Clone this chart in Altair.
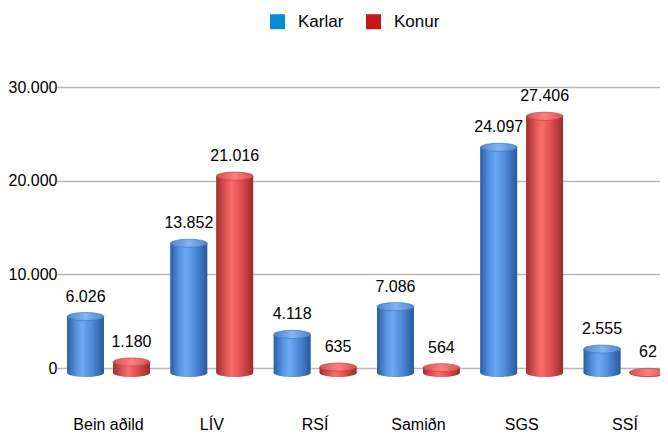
import altair as alt
import pandas as pd

categories = ["Bein aðild", "LÍV", "RSÍ", "Samiðn", "SGS", "SSÍ"]
karlar = [6026, 13852, 4118, 7086, 24097, 2555]
konur = [1180, 21016, 635, 564, 27406, 62]
series = ["Karlar", "Konur"]
y_ticks = [0, 10000, 20000, 30000]

rows = []
for c, k, w in zip(categories, karlar, konur):
    rows.append({"cat": c, "sex": "Karlar", "value": k})
    rows.append({"cat": c, "sex": "Konur", "value": w})
df = pd.DataFrame(rows)
df["label"] = df["value"].map(lambda v: f"{v:,}".replace(",", "."))
df["zero"] = 0

FONT = "Liberation Sans"
SHIFT = 5          # slight downward shift, mimicking the 3D perspective
CAP = "M-1,0A1,0.22,0,1,1,1,0A1,0.22,0,1,1,-1,0Z"
CAP_SIZE = 1360

x_enc = alt.X("cat:N", sort=categories,
              scale=alt.Scale(range=[-16.15, 603.65], paddingInner=0.2, paddingOuter=0.1),
              axis=alt.Axis(title=None, labelAngle=0, domain=False, ticks=False,
                            labelPadding=48, labelFontSize=16, labelColor="#000",
                            labelFont=FONT, grid=False))
xo_enc = alt.XOffset("sex:N", scale=alt.Scale(domain=series, paddingInner=0.2, paddingOuter=0))
y_enc = alt.Y("value:Q", scale=alt.Scale(domain=[0, 30000]),
              axis=alt.Axis(title=None, values=y_ticks, domain=False, ticks=False,
                            labelPadding=16, labelFontSize=16, labelColor="#000",
                            labelFont=FONT, gridColor="#b8b8b8", gridWidth=1.4,
                            labelExpr="replace(format(datum.value, ','), ',', '.')"))
y_zero = alt.Y("zero:Q")


def grad(stops):
    return alt.Gradient(gradient="linear", x1=0, y1=0, x2=1, y2=0,
                        stops=[alt.GradientStop(color=c, offset=o) for o, c in stops])


blue_grad = grad([(0, "#2c5fa6"), (0.25, "#5893e0"), (0.42, "#6eaaf2"),
                  (0.7, "#4b87d3"), (1, "#2a589b")])
red_grad = grad([(0, "#a32f2f"), (0.25, "#dd5555"), (0.42, "#fb6e6e"),
                 (0.7, "#d84c4c"), (1, "#9c2c2c")])
blue_top = grad([(0, "#4c86d0"), (0.5, "#80b5f3"), (1, "#4c86d0")])
red_top = grad([(0, "#d45050"), (0.5, "#ff8080"), (1, "#d45050")])

base = alt.Chart(df)

legend_bars = base.mark_bar(yOffset=SHIFT).encode(
    x=x_enc, xOffset=xo_enc, y=y_enc,
    color=alt.Color("sex:N", scale=alt.Scale(domain=series, range=["#0a8ad0", "#c8161d"]),
                    legend=alt.Legend(title=None, orient="none", legendX=196, legendY=-74,
                                      direction="horizontal", symbolType="square",
                                      symbolSize=225, symbolStrokeWidth=0,
                                      labelFontSize=17, labelFont=FONT, labelColor="#000",
                                      labelOffset=12, columnPadding=21)))

layers = [legend_bars]
for s, body, top, edge in [("Karlar", blue_grad, blue_top, "#3a70b8"),
                           ("Konur", red_grad, red_top, "#b53a3a")]:
    b = base.transform_filter(alt.datum.sex == s)
    layers.append(b.mark_point(shape=CAP, size=CAP_SIZE, filled=True, color=body,
                               opacity=1, yOffset=SHIFT).encode(
        x=x_enc, xOffset=xo_enc, y=y_zero))
    layers.append(b.mark_bar(color=body, yOffset=SHIFT).encode(
        x=x_enc, xOffset=xo_enc, y=y_enc))
    layers.append(b.mark_point(shape=CAP, size=CAP_SIZE, filled=True, color=top,
                               stroke=edge, strokeWidth=0.6, opacity=1,
                               yOffset=SHIFT).encode(
        x=x_enc, xOffset=xo_enc, y=y_enc))

texts = base.mark_text(baseline="alphabetic", dy=-10, fontSize=16, font=FONT,
                       color="#000").encode(
    x=x_enc, xOffset=xo_enc, y=y_enc, text="label:N")
layers.append(texts)

chart = alt.layer(*layers).properties(
    width=587, height=281,
    autosize=alt.AutoSizeParams(type="none"),
    padding={"left": 65, "top": 79, "right": 0, "bottom": 64},
).configure_view(stroke=None)

chart.save("out.html", embed_options={"renderer": "svg", "actions": False})
